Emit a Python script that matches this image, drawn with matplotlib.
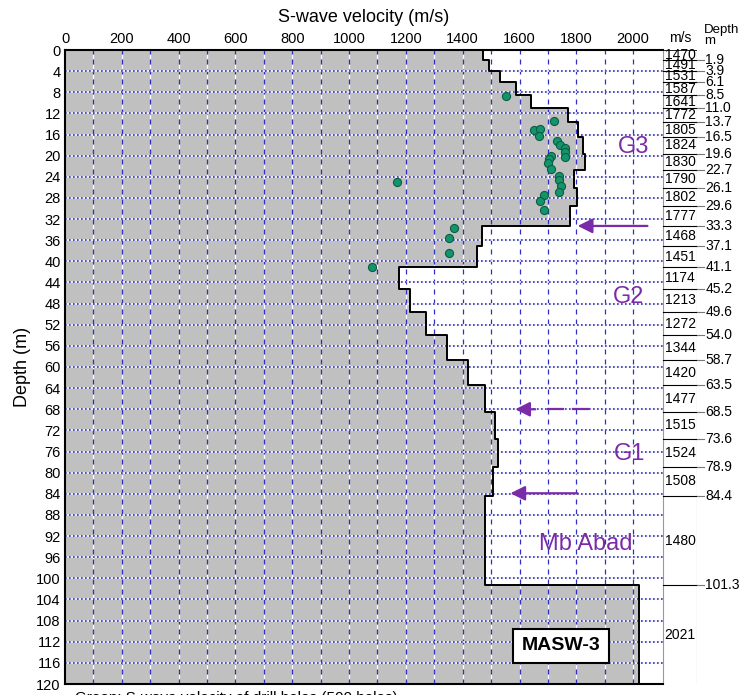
import matplotlib
matplotlib.use("Agg")
import matplotlib.pyplot as plt
import numpy as np

plt.rcParams['font.family'] = ['Liberation Sans', 'DejaVu Sans']

# layer boundaries (m) and S-wave velocities (m/s) of the MASW-3 profile
depth_bounds = [0, 1.9, 3.9, 6.1, 8.5, 11.0, 13.7, 16.5, 19.6, 22.7, 26.1, 29.6,
                33.3, 37.1, 41.1, 45.2, 49.6, 54.0, 58.7, 63.5, 68.5, 73.6, 78.9,
                84.4, 101.3, 120]
layer_vel = [1470, 1491, 1531, 1587, 1641, 1772, 1805, 1824, 1830, 1790, 1802,
             1777, 1468, 1451, 1174, 1213, 1272, 1344, 1420, 1477, 1515, 1524,
             1508, 1480, 2021]
depth_labels = ['1.9', '3.9', '6.1', '8.5', '11.0', '13.7', '16.5', '19.6', '22.7',
                '26.1', '29.6', '33.3', '37.1', '41.1', '45.2', '49.6', '54.0',
                '58.7', '63.5', '68.5', '73.6', '78.9', '84.4', '101.3']

# green points (measured velocities)
pt_vel = [1552, 1720, 1650, 1672, 1670, 1731, 1744, 1760, 1761, 1759, 1711, 1703,
          1701, 1711, 1738, 1739, 1746, 1738, 1687, 1671, 1686, 1369, 1351, 1351,
          1168, 1081]
pt_depth = [8.7, 13.4, 15.1, 14.9, 16.3, 17.2, 18.0, 18.5, 19.3, 20.3, 20.0, 20.6,
            21.3, 22.5, 23.8, 24.7, 25.8, 26.9, 27.4, 28.6, 30.3, 33.6, 35.5, 38.4,
            25.0, 41.0]

purple = '#7B2AA8'
gridblue = '#3030c8'

fig = plt.figure(figsize=(7.4, 6.95), dpi=100)
ax = fig.add_axes([65 / 740, 1 - 684 / 695, (663 - 65) / 740, (684 - 50) / 695])

# step profile
ys = np.repeat(depth_bounds, 2)[1:-1]
xs = np.repeat(layer_vel, 2)
ax.fill_betweenx(ys, 0, xs, color='#c0c0c0', lw=0, zorder=1)

# grid
for v in range(100, 2100, 100):
    ax.axvline(v, color='white', lw=0.9, ls=(4, (4, 4)), zorder=2)
    ax.axvline(v, color=gridblue, lw=0.9, ls=(0, (4, 4)), zorder=2)
for d in range(4, 120, 4):
    ax.axhline(d, color='#f4f4f4', lw=1.2, zorder=2)
    ax.axhline(d, color=gridblue, lw=1.2, ls=(0, (1, 1.4)), zorder=2)

ax.plot(xs, ys, color='black', lw=1.4, zorder=3)
ax.scatter(pt_vel, pt_depth, s=34, color='#13956b', edgecolor='#0b5e44', lw=0.8, zorder=4)

ax.set_xlim(0, 2105)
ax.set_ylim(120, 0)
ax.xaxis.tick_top()
ax.xaxis.set_label_position('top')
ax.set_xticks(range(0, 2001, 200))
ax.set_yticks(range(0, 121, 4))
ax.tick_params(length=0, labelsize=10.5, pad=3)
ax.set_xlabel('S-wave velocity (m/s)', fontsize=13, labelpad=7)
ax.set_ylabel('Depth (m)', fontsize=13, labelpad=4)
for s in ['left', 'top', 'bottom']:
    ax.spines[s].set_linewidth(1.5)
ax.spines['right'].set_color('#999999')
ax.spines['right'].set_linewidth(0.8)

# arrows and labels
arrow = dict(arrowstyle='-|>', color=purple, lw=1.6, mutation_scale=22)
ax.annotate('', xy=(1795, 33.3), xytext=(2060, 33.3), arrowprops=arrow, zorder=5)
ax.annotate('', xy=(1575, 68.0), xytext=(1665, 68.0), arrowprops=arrow, zorder=5)
ax.plot([1700, 1753], [68.0, 68.0], color=purple, lw=1.6, zorder=5)
ax.plot([1788, 1842], [68.0, 68.0], color=purple, lw=1.6, zorder=5)
ax.annotate('', xy=(1558, 83.9), xytext=(1814, 83.9), arrowprops=arrow, zorder=5)

ax.text(2000, 18.4, 'G3', color=purple, fontsize=17, ha='center', va='center', zorder=5)
ax.text(1985, 46.8, 'G2', color=purple, fontsize=17, ha='center', va='center', zorder=5)
ax.text(1987, 76.5, 'G1', color=purple, fontsize=17, ha='center', va='center', zorder=5)
ax.text(1834, 93.5, 'Mb Abad', color=purple, fontsize=17, ha='center', va='center', zorder=5)
ax.text(1746, 112.8, 'MASW-3', fontsize=14, fontweight='bold', ha='center', va='center',
        zorder=6, bbox=dict(boxstyle='square,pad=0.45', fc='white', ec='black', lw=1.5))

# table with layer velocities and depths on the right
tab = fig.add_axes([663 / 740, 1 - 684 / 695, (697 - 663) / 740, (684 - 50) / 695])
tab.set_xlim(0, 1)
tab.set_ylim(120, 0)
tab.axis('off')
tab.axvline(1, color='#999999', lw=0.8)
tab.axhline(0, xmax=1, color='black', lw=1.2)
for i, v in enumerate(layer_vel):
    mid = (depth_bounds[i] + depth_bounds[i + 1]) / 2
    tab.text(0.05, mid, str(v), fontsize=10, ha='left', va='center')
for d, lab in zip(depth_bounds[1:-1], depth_labels):
    tab.plot([0, 1], [d, d], color='black', lw=0.8, clip_on=False)
    tab.plot([1, 1.2], [d, d], color='#777777', lw=0.8, clip_on=False)
    tab.text(1.25, d, lab, fontsize=10, ha='left', va='center', clip_on=False)

fig.text(680 / 740, 1 - 38 / 695, 'm/s', fontsize=10, ha='center', va='center')
fig.text(704 / 740, 1 - 30 / 695, 'Depth', fontsize=9.5, ha='left', va='center')
fig.text(704 / 740, 1 - 41 / 695, 'm', fontsize=9.5, ha='left', va='center')

# caption partly cut off at the bottom edge
fig.text(75 / 740, 1 - 698 / 695, 'Green: S-wave velocity of drill holes (500 holes)',
         fontsize=11, ha='left', va='center')

fig.savefig('out.png', dpi=100)
